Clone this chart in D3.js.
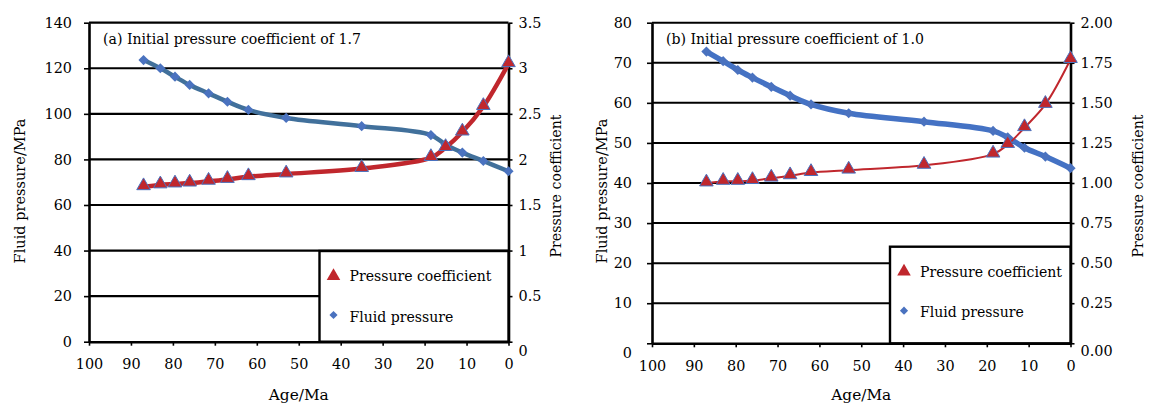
<!DOCTYPE html>
<html lang="en">
<head>
<meta charset="UTF-8">
<title>Fluid pressure and pressure coefficient vs age</title>
<script src="https://d3js.org/d3.v7.min.js"></script>
<style>
  body { margin: 0; background: #fff; }
  svg text { fill: #000; }
</style>
</head>
<body>
<svg id="chart" width="1150" height="403"></svg>
<script>
  // ages of the sampled points (Ma), shared by both panels
  const ages = [87, 83, 79.5, 76, 71.5, 67, 62, 53, 35, 18.5, 15, 11, 6, 0];

  // panel (a): initial pressure coefficient 1.7
  const fluidA = [123.6, 120, 116.3, 112.7, 109, 105.3, 101.7, 98.2, 94.6, 90.7, 86.5, 83, 79.3, 74.8];
  const coefA = [1.70, 1.72, 1.73, 1.74, 1.76, 1.78, 1.81, 1.84, 1.90, 2.02, 2.13, 2.30, 2.58, 3.05];

  // panel (b): initial pressure coefficient 1.0
  const fluidB = [72.8, 70.4, 68.2, 66.3, 64.0, 61.8, 59.6, 57.4, 55.3, 53.0, 51.4, 48.8, 46.6, 43.7];
  const coefB = [1.00, 1.01, 1.01, 1.015, 1.03, 1.045, 1.065, 1.08, 1.11, 1.18, 1.24, 1.345, 1.49, 1.77];

  // tick labels
  const ageTicks = [100, 90, 80, 70, 60, 50, 40, 30, 20, 10, 0];
  const pressureTicksA = [0, 20, 40, 60, 80, 100, 120, 140];
  const coefTicksA = [0, 0.5, 1, 1.5, 2, 2.5, 3, 3.5];
  const pressureTicksB = [0, 10, 20, 30, 40, 50, 60, 70, 80];
  const coefTicksB = [0, 0.25, 0.5, 0.75, 1, 1.25, 1.5, 1.75, 2];

  const FONT = "'DejaVu Serif', 'Liberation Serif', serif";
  const svg = d3.select("#chart").attr("font-family", FONT);

  // scale a text's font size so its width matches the width seen in the picture
  function fit(sel, target) {
    sel.each(function () {
      const w = this.getComputedTextLength();
      const fs = parseFloat(d3.select(this).attr("font-size"));
      if (w > 0) d3.select(this).attr("font-size", (fs * target / w).toFixed(2));
    });
  }

  const panels = [
    {
      title: "(a) Initial pressure coefficient of 1.7",
      left: 89, right: 508.5, top: 22.7, bottom: 341.7,
      fluid: fluidA, coef: coefA,
      pTicks: pressureTicksA, cTicks: coefTicksA, cFormat: d3.format(""),
      leftPad: 12, leftZeroShift: 0, rightZeroShift: 9,
      fluidColor: "#41709b", fluidWidth: 4.5, coefWidth: 4.5,
      gridWidth: 2.2,
      legend: { x: 319.5, y: 251 },
      yTitleX: 25, y2TitleX: 561
    },
    {
      title: "(b) Initial pressure coefficient of 1.0",
      left: 652, right: 1070.5, top: 22.7, bottom: 343.3,
      fluid: fluidB, coef: coefB,
      pTicks: pressureTicksB, cTicks: coefTicksB, cFormat: d3.format(".2f"),
      leftPad: 15, leftZeroShift: 10, rightZeroShift: 8,
      fluidColor: "#4472c4", fluidWidth: 5.5, coefWidth: 2,
      gridWidth: 2,
      legend: { x: 890, y: 246.7 },
      yTitleX: 607, y2TitleX: 1143
    }
  ];

  const triangle = d3.symbol().type(d3.symbolTriangle).size(80);
  const diamond = d3.symbol().type(d3.symbolSquare).size(52);

  // tick label font size, fitted so that "100" is about the width seen in the picture
  const probe = svg.append("text").attr("font-size", 17).text("100");
  fit(probe, 27.5);
  const tickSize = +probe.attr("font-size");
  probe.remove();

  panels.forEach(drawPanel);

  function drawPanel(p) {
    const g = svg.append("g");
    const pMax = d3.max(p.pTicks);
    const cMax = d3.max(p.cTicks);

    const x = d3.scaleLinear().domain([100, 0]).range([p.left, p.right]);
    const yP = d3.scaleLinear().domain([0, pMax]).range([p.bottom, p.top]);
    const yC = d3.scaleLinear().domain([0, cMax]).range([p.bottom, p.top]);

    // horizontal gridlines
    g.selectAll("line.grid")
      .data(p.pTicks.filter(d => d > 0))
      .join("line")
      .attr("class", "grid")
      .attr("x1", p.left).attr("x2", p.right)
      .attr("y1", d => yP(d)).attr("y2", d => yP(d))
      .attr("stroke", "#000")
      .attr("stroke-width", p.gridWidth);

    // axes
    const axL = g.append("g")
      .attr("transform", `translate(${p.left},0)`)
      .call(d3.axisLeft(yP).tickValues(p.pTicks).tickSize(5).tickSizeOuter(0).tickPadding(p.leftPad));
    const axR = g.append("g")
      .attr("transform", `translate(${p.right},0)`)
      .call(d3.axisRight(yC).tickValues(p.cTicks).tickFormat(p.cFormat).tickSize(4).tickSizeOuter(0).tickPadding(6));
    const axB = g.append("g")
      .attr("transform", `translate(0,${p.bottom})`)
      .call(d3.axisBottom(x).tickValues(ageTicks).tickSize(4).tickSizeOuter(0).tickPadding(13));

    [axL, axR, axB].forEach(a => {
      a.attr("font-family", FONT).attr("font-size", tickSize);
      a.select(".domain").attr("stroke", "#000").attr("stroke-width", 2.6);
      a.selectAll(".tick line").attr("stroke", "#000").attr("stroke-width", 1.6);
    });
    axL.selectAll(".tick text").filter(d => d === 0).attr("dy", (0.32 * tickSize + p.leftZeroShift) + "px");
    axR.selectAll(".tick text").filter(d => d === 0).attr("dy", (0.32 * tickSize + p.rightZeroShift) + "px");

    // smooth lines
    const lineP = d3.line().x((d, i) => x(ages[i])).y(d => yP(d)).curve(d3.curveCatmullRom);
    const lineC = d3.line().x((d, i) => x(ages[i])).y(d => yC(d)).curve(d3.curveCatmullRom);

    g.append("path").datum(p.fluid)
      .attr("d", lineP).attr("fill", "none")
      .attr("stroke", p.fluidColor).attr("stroke-width", p.fluidWidth)
      .attr("stroke-linejoin", "round");
    g.append("path").datum(p.coef)
      .attr("d", lineC).attr("fill", "none")
      .attr("stroke", "#c0272d").attr("stroke-width", p.coefWidth)
      .attr("stroke-linejoin", "round");

    // markers
    g.selectAll("path.dia")
      .data(p.fluid)
      .join("path")
      .attr("class", "dia")
      .attr("d", diamond)
      .attr("transform", (d, i) => `translate(${x(ages[i])},${yP(d)}) rotate(45)`)
      .attr("fill", "#4a72bf");
    g.selectAll("path.tri")
      .data(p.coef)
      .join("path")
      .attr("class", "tri")
      .attr("d", triangle)
      .attr("transform", (d, i) => `translate(${x(ages[i])},${yC(d) - 1})`)
      .attr("fill", "#c0272d")
      .attr("stroke", "#4a72bf")
      .attr("stroke-width", 1);

    // panel title
    g.append("text")
      .attr("x", p.left + 14)
      .attr("y", 43.5)
      .attr("font-size", 16.5)
      .text(p.title)
      .call(fit, 258);

    // legend box
    const lg = g.append("g").attr("transform", `translate(${p.legend.x},${p.legend.y})`);
    lg.append("rect")
      .attr("width", p.right - p.legend.x)
      .attr("height", p.bottom - p.legend.y)
      .attr("fill", "#fff")
      .attr("stroke", "#000")
      .attr("stroke-width", 2.4);
    const entries = [
      { label: "Pressure coefficient", sym: triangle, color: "#c0272d", rot: 0 },
      { label: "Fluid pressure", sym: diamond, color: "#4a72bf", rot: 45 }
    ];
    lg.selectAll("path.key")
      .data(entries)
      .join("path")
      .attr("class", "key")
      .attr("d", d => d.sym())
      .attr("transform", (d, i) => `translate(14,${25 + i * 39}) rotate(${d.rot}) scale(${d.rot ? 0.8 : 1.0})`)
      .attr("fill", d => d.color);
    const keyText = lg.selectAll("text.key")
      .data(entries)
      .join("text")
      .attr("class", "key")
      .attr("x", 30)
      .attr("y", (d, i) => 30 + i * 40.5)
      .attr("font-size", 16.5)
      .text(d => d.label);
    fit(keyText.filter((d, i) => i === 0), 142);
    keyText.filter((d, i) => i === 1).attr("font-size", keyText.filter((d, i) => i === 0).attr("font-size"));

    // axis titles
    g.append("text")
      .attr("x", (p.left + p.right) / 2)
      .attr("y", 400)
      .attr("text-anchor", "middle")
      .attr("font-size", 18)
      .text("Age/Ma")
      .call(fit, 60);
    g.append("text")
      .attr("transform", `translate(${p.yTitleX},191) rotate(-90)`)
      .attr("text-anchor", "middle")
      .attr("font-size", 18)
      .text("Fluid pressure/MPa")
      .call(fit, 145);
    g.append("text")
      .attr("transform", `translate(${p.y2TitleX},186) rotate(-90)`)
      .attr("text-anchor", "middle")
      .attr("font-size", 18)
      .text("Pressure coefficient")
      .call(fit, 143);
  }
</script>
</body>
</html>
